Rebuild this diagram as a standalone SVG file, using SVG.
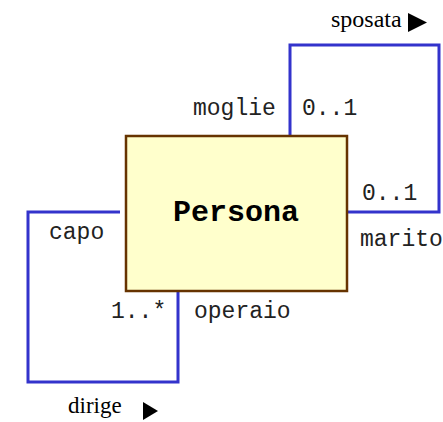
<svg xmlns="http://www.w3.org/2000/svg" width="443" height="422" viewBox="0 0 443 422">
<style>
.conn{fill:none;stroke:#3333cc;stroke-width:3;stroke-linejoin:miter}
.lbl{font-family:"Liberation Mono","Courier New",monospace;font-size:23px;fill:#222}
.assoc{font-family:"Liberation Serif","Times New Roman",serif;font-size:24px;fill:#000}
.cls{font-family:"Liberation Mono","Courier New",monospace;font-size:30px;font-weight:bold;fill:#000}
</style>
<rect width="443" height="422" fill="#ffffff"/>
<g id="connectors">
<path class="conn" d="M290,136 V45 H439 V212 H347"/>
<path class="conn" d="M120,212 H28 V382 H178 V291"/>
</g>
<g id="persona">
<rect x="126" y="136" width="221" height="155" fill="#ffffcc" stroke="#663300" stroke-width="2.5"/>
<text class="cls" x="236" y="221" text-anchor="middle">Persona</text>
</g>
<g id="labels-sposata">
<text class="assoc" x="331" y="27">sposata</text>
<polygon points="408,13 427,22.5 408,32" fill="#000"/>
<text class="lbl" x="193" y="115">moglie</text>
<text class="lbl" x="302" y="115">0..1</text>
<text class="lbl" x="362" y="200">0..1</text>
<text class="lbl" x="360" y="246">marito</text>
</g>
<g id="labels-dirige">
<text class="assoc" x="68" y="413" style="font-size:23px">dirige</text>
<polygon points="143,402 158,411 143,420" fill="#000"/>
<text class="lbl" x="49" y="239">capo</text>
<text class="lbl" x="111" y="318">1..*</text>
<text class="lbl" x="194" y="318">operaio</text>
</g>
</svg>
